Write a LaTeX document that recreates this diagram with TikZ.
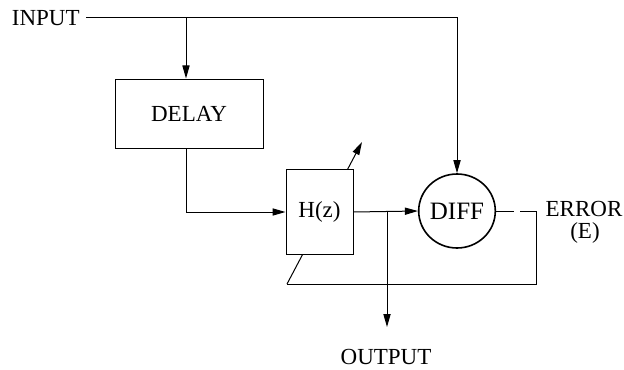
\documentclass[tikz,border=0pt]{standalone}
\usepackage{fontspec}
\setmainfont{Liberation Serif}
\usetikzlibrary{calc,arrows.meta,positioning,shapes.geometric}
\pgfdeclarelayer{background}
\pgfsetlayers{background,main}
\tikzset{
  blockBox/.style={draw,fill=white,line width=.5pt,inner sep=0pt},
  sigLine/.style={line width=.5pt},
  sigArrow/.style={line width=.5pt,-{Triangle[length=6.5pt,width=3.6pt]}},
  labelText/.style={font=\fontsize{11.5}{12}\selectfont,inner sep=0pt}
}

\begin{document}
\begin{tikzpicture}[x=.5pt,y=-.5pt]
\useasboundingbox (0,0) rectangle (624,369);
% blocks
\node[labelText,anchor=east] (input) at (80,18) {INPUT};
\node[blockBox,labelText,minimum width=74pt,minimum height=34.5pt] (delay) at (189,113.5) {DELAY};
\node[blockBox,labelText,minimum width=33.5pt,minimum height=42.5pt] (hz) at (319.5,212) {H(z)};
\node[blockBox,ellipse,labelText,font=\fontsize{12.5}{13}\selectfont,line width=.8pt,minimum width=33pt,minimum height=37pt] (diff) at (457,211) {DIFF};
\node[labelText] (output) at (386,357) {OUTPUT};
\node[labelText] (error) at (584,209) {ERROR};
\node[labelText] (errorE) at (585,233) {(E)};
% taps and corners
\coordinate (inTap) at (186,18);
\coordinate (outTap) at (387,211);
\coordinate (outEnd) at (387,327);
\coordinate (loopR) at (536,211);
\coordinate (loopB) at (536,284);
\coordinate (loopL) at (287,284);
\coordinate (tuneTip) at (362,142);
% signal paths
\draw[sigArrow] ([xshift=3pt]input.east) -| (diff.north);
\draw[sigArrow] (inTap) -- (inTap |- delay.north);
\draw[sigArrow] (delay.south -| inTap) |- (hz.west);
\draw[sigArrow] (hz.east) -- (diff.west);
\draw[sigArrow] (outTap) -- (outEnd);
\draw[sigLine,dash pattern=on 9pt off 3pt] (diff.east) -- (loopR);
\draw[sigLine] (loopR) -- (loopB) -- (loopL);
\begin{pgfonlayer}{background}
\draw[sigArrow] (loopL) -- (tuneTip);
\end{pgfonlayer}
\end{tikzpicture}
\end{document}
